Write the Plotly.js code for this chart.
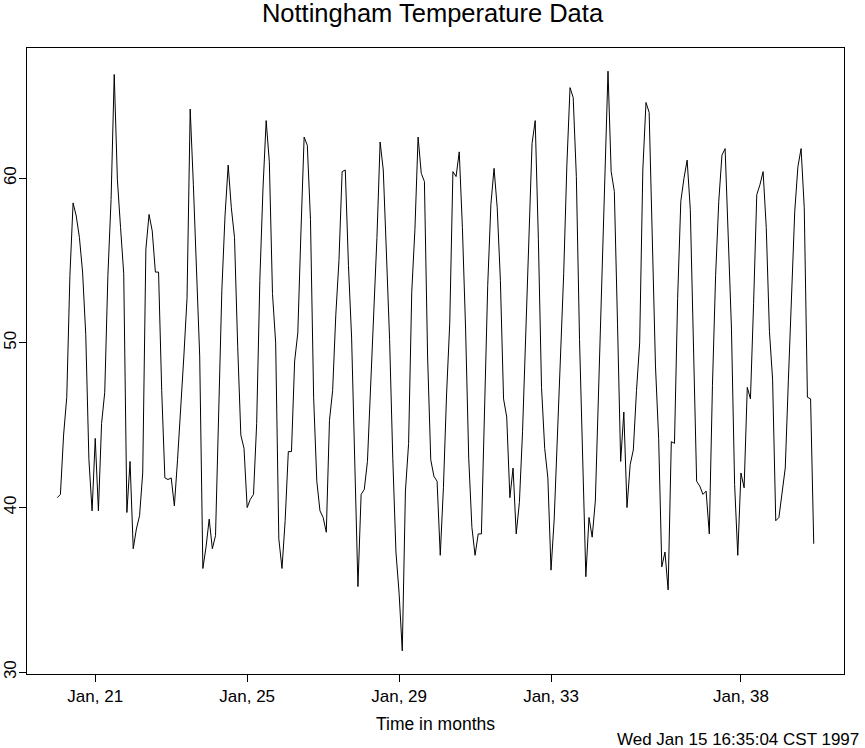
<!DOCTYPE html>
<html>
<head>
<meta charset="utf-8">
<script src="https://cdn.plot.ly/plotly-3.0.1.min.js"></script>
<style>html,body{margin:0;padding:0;background:#fff;}#chart{width:865px;height:748px;}</style>
</head>
<body>
<div id="chart"></div>
<script>
// Nottingham monthly average temperatures (deg F), Jan 1920 - Dec 1939
const startYear = 1920;
const temps1920s = [
  40.6, 40.8, 44.4, 46.7, 54.1, 58.5, 57.7, 56.4, 54.3, 50.5, 42.9, 39.8,
  44.2, 39.8, 45.1, 47.0, 54.1, 58.7, 66.3, 59.9, 57.0, 54.2, 39.7, 42.8,
  37.5, 38.7, 39.5, 42.1, 55.7, 57.8, 56.8, 54.3, 54.3, 47.1, 41.8, 41.7,
  41.8, 40.1, 42.9, 45.8, 49.2, 52.7, 64.2, 59.6, 54.4, 49.2, 36.3, 37.6,
  39.3, 37.5, 38.3, 45.5, 53.2, 57.7, 60.8, 58.2, 56.4, 49.8, 44.4, 43.6,
  40.0, 40.5, 40.8, 45.1, 53.8, 59.4, 63.5, 61.0, 53.0, 50.0, 38.1, 36.3,
  39.2, 43.4, 43.4, 48.9, 50.6, 56.8, 62.5, 62.0, 57.5, 46.7, 41.6, 39.8,
  39.4, 38.5, 45.3, 47.1, 51.7, 55.0, 60.4, 60.5, 54.7, 50.3, 42.3, 35.2,
  40.8, 41.1, 42.8, 47.3, 50.9, 56.4, 62.2, 60.5, 55.4, 50.2, 43.0, 37.3,
  34.8, 31.3, 41.0, 43.9, 53.1, 56.9, 62.5, 60.3, 59.8, 49.2, 42.9, 41.9
];
const temps1930s = [
  41.6, 37.1, 41.2, 46.9, 51.2, 60.4, 60.1, 61.6, 57.0, 50.9, 43.0, 38.8,
  37.1, 38.4, 38.4, 46.5, 53.5, 58.4, 60.6, 58.2, 53.8, 46.6, 45.5, 40.6,
  42.4, 38.4, 40.3, 44.6, 50.9, 57.0, 62.1, 63.5, 56.3, 47.3, 43.6, 41.8,
  36.2, 39.3, 44.5, 48.7, 54.2, 60.8, 65.5, 64.9, 60.1, 50.2, 42.1, 35.8,
  39.4, 38.2, 40.4, 46.9, 53.4, 59.6, 66.5, 60.4, 59.2, 51.2, 42.8, 45.8,
  40.0, 42.6, 43.5, 47.1, 50.0, 60.5, 64.6, 64.0, 56.8, 48.6, 44.2, 36.4,
  37.3, 35.0, 44.0, 43.9, 52.7, 58.6, 60.0, 61.1, 58.1, 49.6, 41.6, 41.3,
  40.8, 41.0, 38.4, 47.4, 54.1, 58.6, 61.4, 61.8, 56.3, 50.9, 41.4, 37.1,
  42.1, 41.2, 47.3, 46.6, 52.4, 59.0, 59.6, 60.4, 57.0, 50.7, 47.8, 39.2,
  39.4, 40.9, 42.4, 47.8, 52.4, 58.0, 60.7, 61.8, 58.2, 46.7, 46.6, 37.8
];
const xTickVals = [1921, 1925, 1929, 1933, 1938];
const xTickText = ["Jan, 21", "Jan, 25", "Jan, 29", "Jan, 33", "Jan, 38"];
const yTickVals = [30, 40, 50, 60];
const yTickText = ["30", "40", "50", "60"];
const titleText = "Nottingham Temperature Data";
const xTitleText = "Time in months";
const footerText = "Wed Jan 15 16:35:04 CST 1997";

const temps = temps1920s.concat(temps1930s);
const times = temps.map((_, i) => startYear + i / 12);

// S-style 4% range extension
const xmin = Math.min(...times), xmax = Math.max(...times);
const ymin = Math.min(...temps), ymax = Math.max(...temps);
const xpad = (xmax - xmin) * 0.04, ypad = (ymax - ymin) * 0.04;

const font = "Liberation Sans, Arial, Helvetica, sans-serif";

Plotly.newPlot("chart", [{
  x: times, y: temps, type: "scatter", mode: "lines",
  line: {color: "#000", width: 1}, hoverinfo: "x+y"
}], {
  width: 865, height: 748,
  margin: {l: 27, r: 21, t: 48, b: 74},
  paper_bgcolor: "#fff", plot_bgcolor: "#fff",
  showlegend: false,
  font: {family: font, color: "#000", size: 17},
  title: {text: titleText, font: {size: 25.5, family: font, color: "#000"},
          x: 0.5, xanchor: "center", y: 0.994, yanchor: "top", yref: "container"},
  xaxis: {
    range: [xmin - xpad, xmax + xpad],
    tickvals: xTickVals, ticktext: xTickText,
    ticks: "outside", ticklen: 7, tickwidth: 1, tickcolor: "#000",
    showgrid: false, zeroline: false,
    showline: true, mirror: true, linecolor: "#000", linewidth: 1,
    tickfont: {size: 17},
    title: {text: xTitleText, font: {size: 17.5}, standoff: 12}
  },
  yaxis: {
    range: [ymin - ypad, ymax + ypad],
    tickvals: yTickVals, ticktext: yTickText, tickangle: -90,
    ticks: "outside", ticklen: 7, tickwidth: 1, tickcolor: "#000",
    ticklabelstandoff: -4,
    showgrid: false, zeroline: false,
    showline: true, mirror: true, linecolor: "#000", linewidth: 1,
    tickfont: {size: 17}
  },
  annotations: [{
    text: footerText, xref: "paper", yref: "paper",
    x: 1.021, y: -0.086, xanchor: "right", yanchor: "top",
    showarrow: false, font: {size: 17, family: font, color: "#000"}
  }]
}, {displayModeBar: false, staticPlot: true});
</script>
</body>
</html>
